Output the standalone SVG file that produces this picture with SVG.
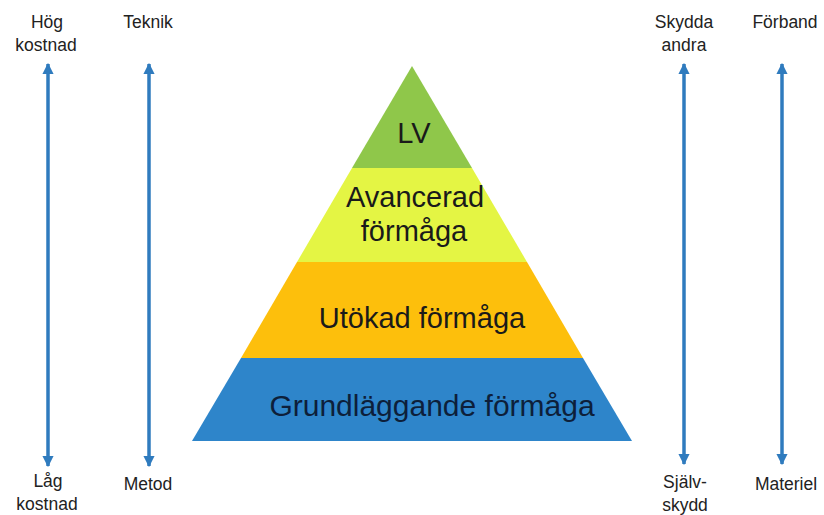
<svg xmlns="http://www.w3.org/2000/svg" width="824" height="515" viewBox="0 0 824 515">
<style>
.lbl{font-family:"Liberation Sans",Arial,sans-serif;font-size:17.5px;fill:#222;text-anchor:middle}
.big{font-family:"Liberation Sans",Arial,sans-serif;font-size:29px;fill:#1a1a1a;text-anchor:middle}
.conn{stroke:#2F7BBE;stroke-width:3.5;fill:none;marker-start:url(#ah);marker-end:url(#ah)}
</style>
<defs>
<marker id="ah" viewBox="0 0 10 10" refX="9" refY="5" markerWidth="3.2" markerHeight="3.4" orient="auto-start-reverse" markerUnits="strokeWidth">
<path d="M0,0 L10,5 L0,10 z" fill="#2F7BBE"/>
</marker>
</defs>
<rect width="824" height="515" fill="#fff"/>
<g id="connectors">
<line class="conn" x1="48" y1="64" x2="48" y2="466"/>
<line class="conn" x1="149" y1="64" x2="149" y2="466"/>
<line class="conn" x1="684" y1="64" x2="684" y2="464"/>
<line class="conn" x1="782" y1="64" x2="782" y2="464"/>
</g>
<g id="lv">
<polygon points="412,66 472,168 352,168" fill="#8FC74A"/>
<text class="big" x="414" y="143">LV</text>
</g>
<g id="avancerad">
<polygon points="352,168 472,168 527,262 297,262" fill="#E4F544"/>
<text class="big" x="415" y="207">Avancerad</text>
<text class="big" x="414" y="241">förmåga</text>
</g>
<g id="utokad">
<polygon points="297,262 527,262 583,358 241,358" fill="#FDBF0C"/>
<text class="big" x="422" y="328">Utökad förmåga</text>
</g>
<g id="grund">
<polygon points="241,358 583,358 632,441 192,441" fill="#2E85CA"/>
<text class="big" x="432" y="416" style="fill:#0d1f3a;font-size:30px">Grundläggande förmåga</text>
</g>
<g id="hog"><text class="lbl" x="47" y="28">Hög</text><text class="lbl" x="46" y="51">kostnad</text></g>
<g id="teknik"><text class="lbl" x="148" y="28">Teknik</text></g>
<g id="skydda"><text class="lbl" x="684" y="28">Skydda</text><text class="lbl" x="684" y="51">andra</text></g>
<g id="forband"><text class="lbl" x="785" y="28">Förband</text></g>
<g id="lag"><text class="lbl" x="48" y="487">Låg</text><text class="lbl" x="47" y="510">kostnad</text></g>
<g id="metod"><text class="lbl" x="148" y="490">Metod</text></g>
<g id="sjalv"><text class="lbl" x="685" y="488">Själv-</text><text class="lbl" x="685" y="511">skydd</text></g>
<g id="materiel"><text class="lbl" x="786" y="490">Materiel</text></g>
</svg>
